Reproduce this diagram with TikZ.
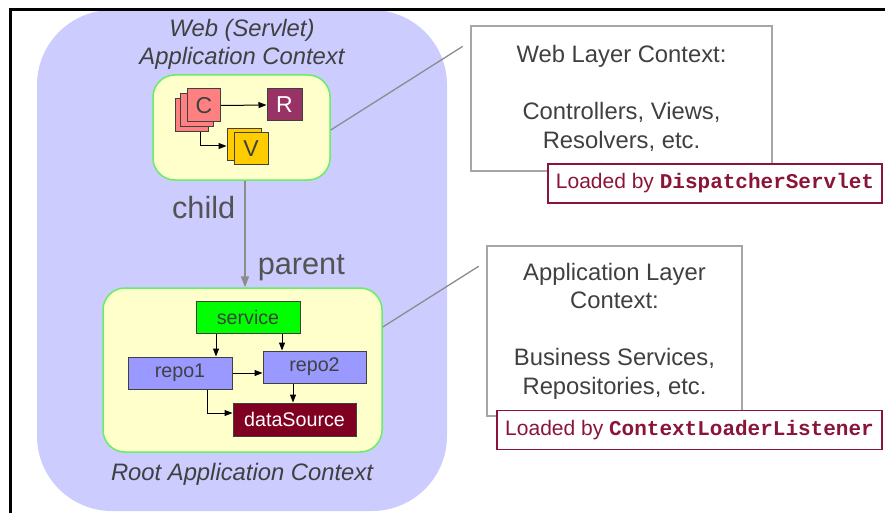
\documentclass[tikz,border=0pt]{standalone}
\usepackage{fontspec}
\setmainfont{Liberation Sans}
\setmonofont{Liberation Mono}
\usepackage{xcolor}
\definecolor{Lavender}{HTML}{CCCCFF}
\definecolor{PaleYellow}{HTML}{FFFFCC}
\definecolor{LimeEdge}{HTML}{66EE66}
\definecolor{Salmon}{HTML}{FF8080}
\definecolor{Plum}{HTML}{993366}
\definecolor{Gold}{HTML}{FFCC00}
\definecolor{Periwinkle}{HTML}{9999FF}
\definecolor{Wine}{HTML}{7F0020}
\definecolor{InkGrey}{HTML}{404040}
\definecolor{WireGrey}{HTML}{8C8C8C}
\definecolor{LoadRed}{HTML}{8B1538}
\usepackage{tikz}
\usetikzlibrary{arrows.meta, positioning, calc}
\tikzstyle{context} = [rectangle, draw=LimeEdge, fill=PaleYellow, line width=1.5pt, rounded corners=22pt, inner sep=0pt]
\tikzstyle{tile} = [rectangle, draw=InkGrey, line width=1pt, minimum width=33pt, minimum height=33pt, inner sep=0pt, text=InkGrey, font=\fontsize{23}{26}\selectfont]
\tikzstyle{bean} = [rectangle, draw=InkGrey, line width=1pt, minimum height=32pt, inner sep=0pt, text=InkGrey, font=\fontsize{19.7}{22}\selectfont]
\tikzstyle{title} = [text=InkGrey, align=center, inner sep=0pt, font=\fontsize{23.8}{28}\selectfont\itshape]
\tikzstyle{note} = [rectangle, draw=gray!70, fill=white, line width=1.3pt, text=InkGrey, align=center, inner sep=0pt, font=\fontsize{23.8}{28.5}\selectfont]
\tikzstyle{loader} = [rectangle, draw=LoadRed, fill=white, line width=1.2pt, text=LoadRed, minimum height=39pt, inner sep=0pt, font=\fontsize{21}{24}\selectfont]
\tikzstyle{arrow} = [-{Triangle[length=8pt,width=6pt]}, line width=1pt, black]
\tikzstyle{link} = [-{Triangle[length=11pt,width=8pt]}, line width=1.5pt, draw=WireGrey, color=WireGrey]
\tikzstyle{line} = [-, draw=WireGrey, line width=1.3pt, shorten >=9pt]

\begin{document}
\begin{tikzpicture}[x=1pt, y=-1pt]
        \useasboundingbox (0,0) rectangle (885,513);
        % Contexts
        \node [rectangle, fill=Lavender, rounded corners=75pt, minimum width=410pt, minimum height=501pt, inner sep=0pt] (webapp) at (242,260.5) {};
        \node [title] (webtitle) at (242,44) {Web (Servlet)\\Application Context};
        \node [title] (roottitle) at (242,474) {Root Application Context};
        \node [context, minimum width=177pt, minimum height=105pt] (webctx) at (241.5,127.5) {};
        \node [context, minimum width=279pt, minimum height=164pt] (rootctx) at (242.5,370) {};

        % Web beans
        \node [tile, fill=Salmon] (cback) at (191.5,115.5) {};
        \node [tile, fill=Salmon] (cmid) at (197,110.5) {};
        \node [tile, fill=Salmon] (cfront) at (204,105.5) {C};
        \node [tile, fill=Plum, text=white, minimum width=35pt, minimum height=32pt] (res) at (284.5,105) {R};
        \node [tile, fill=Gold, minimum width=34pt, minimum height=32pt] (vback) at (244,144.5) {};
        \node [tile, fill=Gold, minimum width=34pt, minimum height=32pt] (vfront) at (251,148.5) {V};

        % Root beans
        \node [bean, fill=green, minimum width=104pt] (service) at (248,317) {service};
        \node [bean, fill=Periwinkle, minimum width=104pt] (repo1) at (180,373) {repo1};
        \node [bean, fill=Periwinkle, minimum width=103pt] (repo2) at (314.5,367) {repo2};
        \node [bean, fill=Wine, text=white, minimum width=123pt, minimum height=33pt] (ds) at (294.5,419.5) {dataSource};

        % Notes
        \node [note, minimum width=301pt, minimum height=145pt] (weblayer) at (621.5,98.5) {Web Layer Context:\\[28.5pt]Controllers, Views,\\Resolvers, etc.};
        \node [loader, minimum width=334pt] (webload) at (715,183.5) {Loaded by \texttt{\bfseries DispatcherServlet}};
        \node [note, minimum width=255pt, minimum height=170pt] (applayer) at (614.5,331) {Application Layer\\Context:\\[28.5pt]Business Services,\\Repositories, etc.};
        \node [loader, minimum width=385pt] (appload) at (689.5,430) {Loaded by \texttt{\bfseries ContextLoaderListener}};

        % Dependencies
        \draw [arrow] (cfront.east) -- (res.west);
        \draw [arrow] ([xshift=8.5pt]cback.south) |- ([yshift=-1.5pt]vback.west);
        \draw [arrow] ([xshift=-32pt]service.south) -- ([xshift=-32pt]service.south |- repo1.north);
        \draw [arrow] ([xshift=34pt]service.south) -- ([xshift=34pt]service.south |- repo2.north);
        \draw [arrow] (repo1.east) -- (repo1.east -| repo2.west);
        \draw [arrow] ([xshift=-21.5pt]repo2.south) -- ([xshift=-21.5pt]repo2.south |- ds.north);
        \draw [arrow] ([xshift=27pt]repo1.south) |- ([yshift=6.5pt]ds.west);

        % Hierarchy
        \draw [link] ([xshift=3.5pt]webctx.south) -- node [pos=0.25, left=9pt, inner sep=0pt, text=InkGrey!90!white, font=\fontsize{30.7}{34}\selectfont] {child} node [pos=0.815, right=12pt, inner sep=0pt, text=InkGrey!90!white, font=\fontsize{30.7}{34}\selectfont] {parent} ([xshift=3.5pt]webctx.south |- rootctx.north);

        % Callouts
        \draw [line] ([yshift=-2.5pt]webctx.east) -- ([yshift=57pt]weblayer.west);
        \draw [line] ([yshift=43pt]rootctx.east) -- ([yshift=69.6pt]applayer.west);

        % Frame
        \draw [line width=2.5pt, black] (885,9.5) -- (10.3,9.5) -- (10.3,513);
    \end{tikzpicture}
\end{document}
